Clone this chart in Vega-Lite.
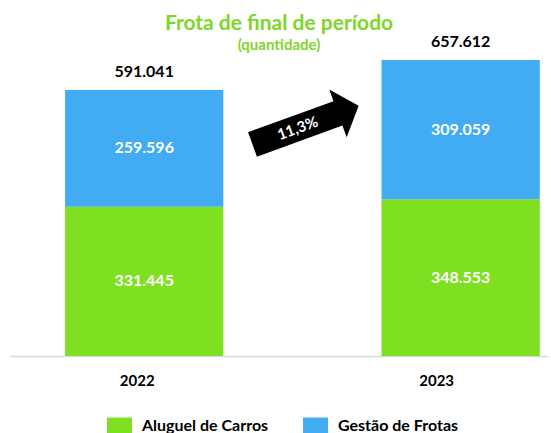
{
  "$schema": "https://vega.github.io/schema/vega-lite/v6.json",
  "width": 538,
  "height": 315,
  "autosize": "none",
  "padding": {"left": 10, "top": 41, "right": 3, "bottom": 77},
  "background": "white",
  "title": {
    "text": "Frota de final de período",
    "subtitle": "(quantidade)",
    "anchor": "middle",
    "font": "Lato",
    "fontSize": 21,
    "fontWeight": "bold",
    "color": "#7ED62A",
    "subtitleFont": "Lato",
    "subtitleFontSize": 15,
    "subtitleFontWeight": "bold",
    "subtitleColor": "#7ED62A",
    "subtitlePadding": 4,
    "offset": -19
  },
  "config": {
    "font": "Lato",
    "view": {"stroke": null},
    "locale": {"number": {"decimal": ",", "thousands": ".", "grouping": [3], "currency": ["R$", ""]}}
  },
  "datasets": {
    "fleet": [
      {"year": "2022", "series": "Aluguel de Carros", "value": 331445},
      {"year": "2022", "series": "Gestão de Frotas", "value": 259596},
      {"year": "2023", "series": "Aluguel de Carros", "value": 348553},
      {"year": "2023", "series": "Gestão de Frotas", "value": 309059}
    ],
    "totals": [
      {"year": "2022", "total": 591041},
      {"year": "2023", "total": 657612}
    ],
    "growth": [
      {"year": "2022", "pos": 513000, "textpos": 506000, "label": "11,3%"}
    ]
  },
  "layer": [
    {
      "data": {"name": "fleet"},
      "mark": {"type": "bar"},
      "encoding": {
        "x": {
          "field": "year",
          "type": "nominal",
          "scale": {"paddingInner": 0.5, "paddingOuter": 0.1, "align": 0.87},
          "axis": {
            "title": null,
            "labelAngle": 0,
            "ticks": false,
            "domainColor": "#d9d9d9",
            "domainWidth": 1.5,
            "labelFont": "Lato",
            "labelFontWeight": "bold",
            "labelFontSize": 15,
            "labelColor": "#000000",
            "labelPadding": 17,
            "labelOffset": {"condition": {"test": "datum.value === '2022'", "value": -7}, "value": -24}
          }
        },
        "y": {
          "field": "value",
          "type": "quantitative",
          "stack": "zero",
          "scale": {"domain": [0, 700000], "nice": false},
          "axis": null
        },
        "order": {"field": "series", "sort": "ascending"},
        "color": {
          "field": "series",
          "type": "nominal",
          "scale": {"domain": ["Aluguel de Carros", "Gestão de Frotas"], "range": ["#7FE022", "#41ACF3"]},
          "legend": {
            "title": null,
            "orient": "none",
            "legendX": 97,
            "legendY": 372,
            "direction": "horizontal",
            "symbolType": "M -1 -0.65 L 1 -0.65 L 1 0.65 L -1 0.65 Z",
            "symbolSize": 625,
            "symbolStrokeWidth": 0,
            "symbolOpacity": 1,
            "labelFont": "Lato",
            "labelFontSize": 16,
            "labelFontWeight": "bold",
            "labelColor": "#000000",
            "columnPadding": 34,
            "labelOffset": 10
          }
        }
      }
    },
    {
      "data": {"name": "fleet"},
      "mark": {"type": "text", "color": "white", "fontWeight": "bold", "fontSize": 16, "font": "Lato", "baseline": "middle"},
      "encoding": {
        "x": {"field": "year", "type": "nominal"},
        "y": {"field": "value", "type": "quantitative", "stack": "zero", "bandPosition": 0.5},
        "order": {"field": "series", "sort": "ascending"},
        "text": {"field": "value", "type": "quantitative", "format": ",d"},
        "detail": {"field": "series"}
      }
    },
    {
      "data": {"name": "totals"},
      "mark": {"type": "text", "color": "black", "fontWeight": "bold", "fontSize": 16, "font": "Lato", "baseline": "middle", "dy": -18},
      "encoding": {
        "x": {"field": "year", "type": "nominal"},
        "y": {"field": "total", "type": "quantitative"},
        "text": {"field": "total", "type": "quantitative", "format": ",d"}
      }
    },
    {
      "data": {"name": "growth"},
      "mark": {
        "type": "point",
        "shape": "M -1 -0.23 L 0.61 -0.23 L 0.61 -0.45 L 1 0 L 0.61 0.45 L 0.61 0.23 L -1 0.23 Z",
        "filled": true,
        "color": "black",
        "opacity": 1,
        "size": 12769,
        "angle": -20,
        "strokeWidth": 0
      },
      "encoding": {
        "x": {"field": "year", "type": "nominal", "bandPosition": 1.52},
        "y": {"field": "pos", "type": "quantitative"}
      }
    },
    {
      "data": {"name": "growth"},
      "mark": {"type": "text", "color": "white", "fontWeight": "bold", "fontSize": 15, "font": "Lato", "baseline": "middle", "angle": -20},
      "encoding": {
        "x": {"field": "year", "type": "nominal", "bandPosition": 1.47},
        "y": {"field": "textpos", "type": "quantitative"},
        "text": {"field": "label"}
      }
    }
  ]
}
